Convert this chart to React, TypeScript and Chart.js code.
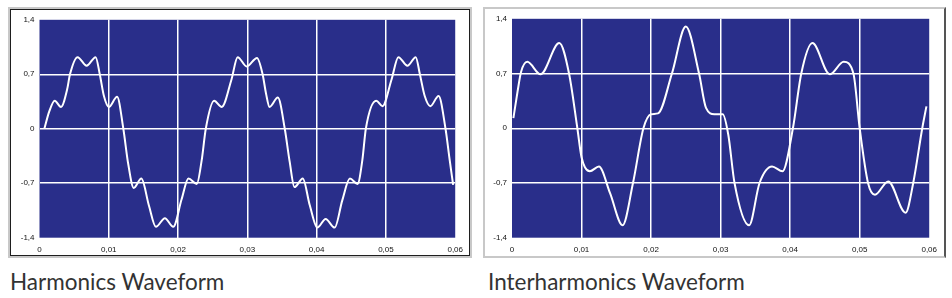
import React, { useEffect, useRef } from "react";
import { Chart, registerables } from "chart.js";

Chart.register(...registerables);

// Harmonics waveform (time in s, amplitude)
const harmonicsTime = [
  0.0007, 0.0014, 0.0022, 0.0031, 0.0040, 0.0044, 0.0055, 0.0068, 0.0081, 0.0087,
  0.0093, 0.0100, 0.0112, 0.0121, 0.0128, 0.0136, 0.0147, 0.0158, 0.0168, 0.0181,
  0.0193, 0.0205, 0.0215, 0.0227, 0.0234, 0.0240, 0.0252, 0.0263, 0.0277, 0.0286,
  0.0299, 0.0314, 0.0322, 0.0327, 0.0332, 0.0344, 0.0354, 0.0361, 0.0368, 0.0380,
  0.0390, 0.0401, 0.0413, 0.0426, 0.0437, 0.0448, 0.0459, 0.0466, 0.0471, 0.0486,
  0.0495, 0.0508, 0.0518, 0.0531, 0.0543, 0.0549, 0.0556, 0.0564, 0.0576, 0.0586,
  0.0592, 0.0597,
];
const harmonicsValue = [
  0.0, 0.22, 0.36, 0.28, 0.51, 0.7, 0.92, 0.81, 0.92, 0.7,
  0.42, 0.28, 0.41, 0.0, -0.45, -0.76, -0.64, -0.99, -1.26, -1.15,
  -1.26, -0.91, -0.64, -0.71, -0.41, 0.0, 0.36, 0.28, 0.63, 0.92,
  0.8, 0.91, 0.7, 0.45, 0.28, 0.4, 0.0, -0.42, -0.75, -0.64,
  -0.98, -1.27, -1.16, -1.27, -0.92, -0.64, -0.71, -0.4, 0.0, 0.36,
  0.29, 0.63, 0.92, 0.81, 0.92, 0.7, 0.42, 0.29, 0.42, 0.0,
  -0.4, -0.72,
];

// Interharmonics waveform
const interTime = [
  0.0002, 0.0008, 0.0013, 0.0022, 0.0041, 0.0068, 0.0082, 0.0094, 0.0100, 0.0112,
  0.0125, 0.0141, 0.0159, 0.0174, 0.0189, 0.0200, 0.0210, 0.0230, 0.0250, 0.0269,
  0.0279, 0.0291, 0.0303, 0.0311, 0.0320, 0.0341, 0.0356, 0.0374, 0.0389, 0.0404,
  0.0416, 0.0432, 0.0457, 0.0477, 0.0491, 0.0500, 0.0512, 0.0522, 0.0541, 0.0566,
  0.0577, 0.0590, 0.0596,
];
const interValue = [
  0.13, 0.47, 0.72, 0.85, 0.69, 1.09, 0.7, 0.0, -0.37, -0.55,
  -0.49, -0.83, -1.24, -0.7, 0.0, 0.18, 0.19, 0.7, 1.3, 0.7,
  0.26, 0.18, 0.18, -0.08, -0.7, -1.24, -0.7, -0.49, -0.55, 0.0,
  0.7, 1.09, 0.69, 0.85, 0.7, 0.0, -0.7, -0.85, -0.68, -1.08,
  -0.7, 0.0, 0.28,
];

const xMin = 0;
const xMax = 0.06;
const xStep = 0.01;
const yMin = -1.4;
const yMax = 1.4;
const yStep = 0.7;

const titles = ["Harmonics Waveform", "Interharmonics Waveform"];

const BLUE = "#292e8a";

const bgPlugin = {
  id: "plotBg",
  beforeDraw(chart: any) {
    const { ctx, chartArea } = chart;
    if (!chartArea) return;
    ctx.save();
    ctx.fillStyle = BLUE;
    ctx.fillRect(chartArea.left, chartArea.top, chartArea.width, chartArea.height);
    ctx.restore();
  },
};

function fmt(v: number, d: number) {
  if (Math.abs(v) < 1e-9) return "0";
  return v.toFixed(d).replace(".", ",");
}

function makeChart(
  canvas: HTMLCanvasElement,
  times: number[],
  values: number[],
  yWidth: number,
  padTop: number,
  padRight: number,
  xHeight: number
) {
  const tickFont = { family: "'Liberation Sans', Arial, sans-serif", size: 8 };
  const gridColor = (ctx: any) => {
    const n = ctx.scale.ticks.length;
    return ctx.index === 0 || ctx.index === n - 1 ? "rgba(0,0,0,0)" : "#ffffff";
  };
  return new Chart(canvas, {
    type: "line",
    data: {
      datasets: [
        {
          data: times.map((t, i) => ({ x: t, y: values[i] })),
          borderColor: "#ffffff",
          borderWidth: 2,
          pointRadius: 0,
          fill: false,
          cubicInterpolationMode: "monotone",
        },
      ],
    },
    options: {
      animation: false,
      responsive: false,
      maintainAspectRatio: false,
      devicePixelRatio: 1,
      layout: { padding: { top: padTop, right: padRight, left: 0, bottom: 0 } },
      plugins: { legend: { display: false }, tooltip: { enabled: false } },
      events: [],
      scales: {
        x: {
          type: "linear",
          min: xMin,
          max: xMax,
          border: { display: false },
          grid: { color: gridColor, lineWidth: 1.5, drawTicks: false },
          ticks: {
            stepSize: xStep,
            font: tickFont,
            color: "#111",
            padding: 7,
            maxRotation: 0,
            autoSkip: false,
            callback: (v: any) => fmt(Number(v), 2),
          },
          afterFit: (s: any) => {
            s.height = xHeight;
          },
        },
        y: {
          type: "linear",
          min: yMin,
          max: yMax,
          border: { display: false },
          grid: { color: gridColor, lineWidth: 1.5, drawTicks: false },
          ticks: {
            stepSize: yStep,
            font: tickFont,
            color: "#111",
            padding: 5,
            autoSkip: false,
            callback: (v: any) => fmt(Number(v), 1),
          },
          afterFit: (s: any) => {
            s.width = yWidth;
          },
        },
      },
    } as any,
    plugins: [bgPlugin],
  });
}

export default function App() {
  const leftRef = useRef<HTMLCanvasElement>(null);
  const rightRef = useRef<HTMLCanvasElement>(null);

  useEffect(() => {
    const c1 = makeChart(leftRef.current!, harmonicsTime, harmonicsValue, 28.5, 7.7, 13.5, 18.3);
    const c2 = makeChart(rightRef.current!, interTime, interValue, 27, 6.7, 13, 18.3);
    return () => {
      c1.destroy();
      c2.destroy();
    };
  }, []);

  const titleStyle: React.CSSProperties = {
    position: "absolute",
    top: 271,
    fontFamily: "Lato, 'Open Sans', sans-serif",
    fontSize: 22.5,
    lineHeight: "22px",
    color: "#333",
    whiteSpace: "nowrap",
  };

  return (
    <div
      style={{
        position: "absolute",
        left: 0,
        top: 0,
        width: 952,
        height: 298,
        background: "#fff",
        overflow: "hidden",
      }}
    >
      {/* left frame */}
      <div
        style={{
          position: "absolute",
          left: 8,
          top: 7,
          width: 464,
          height: 251,
          boxSizing: "border-box",
          border: "2px solid #c8c8c8",
        }}
      >
        <div
          style={{
            position: "absolute",
            left: 0,
            top: 0,
            right: 0,
            bottom: 0,
            border: "1px solid #1e1e1e",
          }}
        />
      </div>
      {/* right frame */}
      <div
        style={{
          position: "absolute",
          left: 483,
          top: 7,
          width: 463,
          height: 251,
          boxSizing: "border-box",
          borderLeft: "2px solid #c8c8c8",
          borderTop: "2px solid #c8c8c8",
          borderBottom: "2px solid #c8c8c8",
          borderRight: "2px solid #555",
        }}
      />
      <canvas
        ref={leftRef}
        width={459}
        height={246}
        style={{ position: "absolute", left: 11, top: 10, width: 459, height: 246 }}
      />
      <canvas
        ref={rightRef}
        width={459}
        height={247}
        style={{ position: "absolute", left: 485, top: 9, width: 459, height: 247 }}
      />
      <div style={{ ...titleStyle, left: 10 }}>{titles[0]}</div>
      <div style={{ ...titleStyle, left: 488 }}>{titles[1]}</div>
    </div>
  );
}
